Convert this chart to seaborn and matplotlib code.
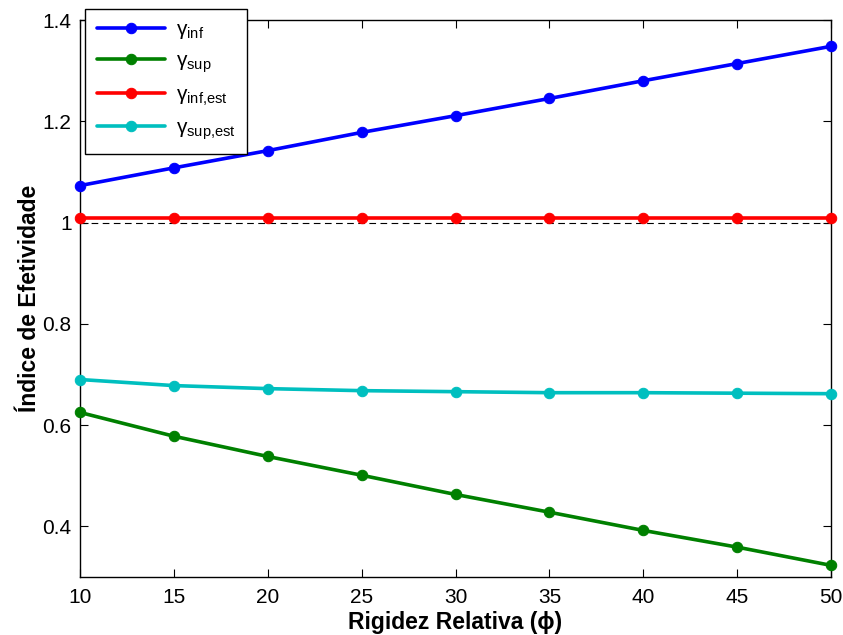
import seaborn as sns
import matplotlib.pyplot as plt
import pandas as pd
from matplotlib.ticker import FormatStrFormatter

sns.set_style("ticks")
plt.rcParams["font.family"] = ["Liberation Sans", "DejaVu Sans"]
plt.rcParams["mathtext.fontset"] = "custom"
plt.rcParams["mathtext.rm"] = "Liberation Sans"
plt.rcParams["xtick.direction"] = "in"
plt.rcParams["ytick.direction"] = "in"
for k in ["text.color", "axes.labelcolor", "xtick.color", "ytick.color"]:
    plt.rcParams[k] = "black"

phi = [10, 15, 20, 25, 30, 35, 40, 45, 50]
gamma_inf = [1.073, 1.108, 1.142, 1.178, 1.211, 1.245, 1.280, 1.314, 1.348]
gamma_sup = [0.625, 0.578, 0.538, 0.501, 0.463, 0.428, 0.392, 0.359, 0.323]
gamma_inf_est = [1.008, 1.008, 1.008, 1.008, 1.008, 1.008, 1.008, 1.008, 1.008]
gamma_sup_est = [0.690, 0.678, 0.672, 0.668, 0.666, 0.664, 0.664, 0.663, 0.662]

series = [
    (r"γ$_{\mathrm{inf}}$", gamma_inf, "#0000ff"),
    (r"γ$_{\mathrm{sup}}$", gamma_sup, "#008000"),
    (r"γ$_{\mathrm{inf{,}est}}$", gamma_inf_est, "#ff0000"),
    (r"γ$_{\mathrm{sup{,}est}}$", gamma_sup_est, "#00bfbf"),
]

fig = plt.figure(figsize=(8.43, 6.35), dpi=100)
ax = fig.add_axes([80 / 843, 1 - 577 / 635, 751 / 843, 557 / 635])

# linha de referencia em 1
ax.plot([10, 50], [1, 1], color="black", linestyle=(0, (6, 4)), linewidth=0.8)

for name, vals, color in series:
    df = pd.DataFrame({"phi": phi, "val": vals})
    sns.lineplot(data=df, x="phi", y="val", ax=ax, color=color, linewidth=2.6,
                 marker="o", markersize=7.5, markeredgecolor=color, label=name,
                 clip_on=False, zorder=3)

ax.set_xlim(10, 50)
ax.set_ylim(0.3, 1.4)
ax.set_xticks(range(10, 51, 5))
ax.set_yticks([0.4, 0.6, 0.8, 1.0, 1.2, 1.4])
ax.yaxis.set_major_formatter(FormatStrFormatter("%g"))
ax.tick_params(top=True, right=True, labelsize=15, length=6, width=0.8, color="black")
ax.tick_params(axis="x", pad=8)
ax.tick_params(axis="y", pad=6)
for s in ax.spines.values():
    s.set_visible(True)
    s.set_color("black")
    s.set_linewidth(1.0)

ax.set_xlabel("Rigidez Relativa (ϕ)", fontsize=16.5, fontweight="bold", labelpad=3)
ax.set_ylabel("Índice de Efetividade", fontsize=16.5, fontweight="bold", labelpad=1)

leg = ax.legend(loc="upper left", bbox_to_anchor=(0.007, 1.02), borderaxespad=0,
                fontsize=15, frameon=True, fancybox=False, edgecolor="black",
                framealpha=1, handlelength=3.3, labelspacing=0.5, handletextpad=0.5,
                borderpad=0.55)
leg.get_frame().set_linewidth(1.0)
leg.set_zorder(5)

fig.savefig("out.png", dpi=100)
